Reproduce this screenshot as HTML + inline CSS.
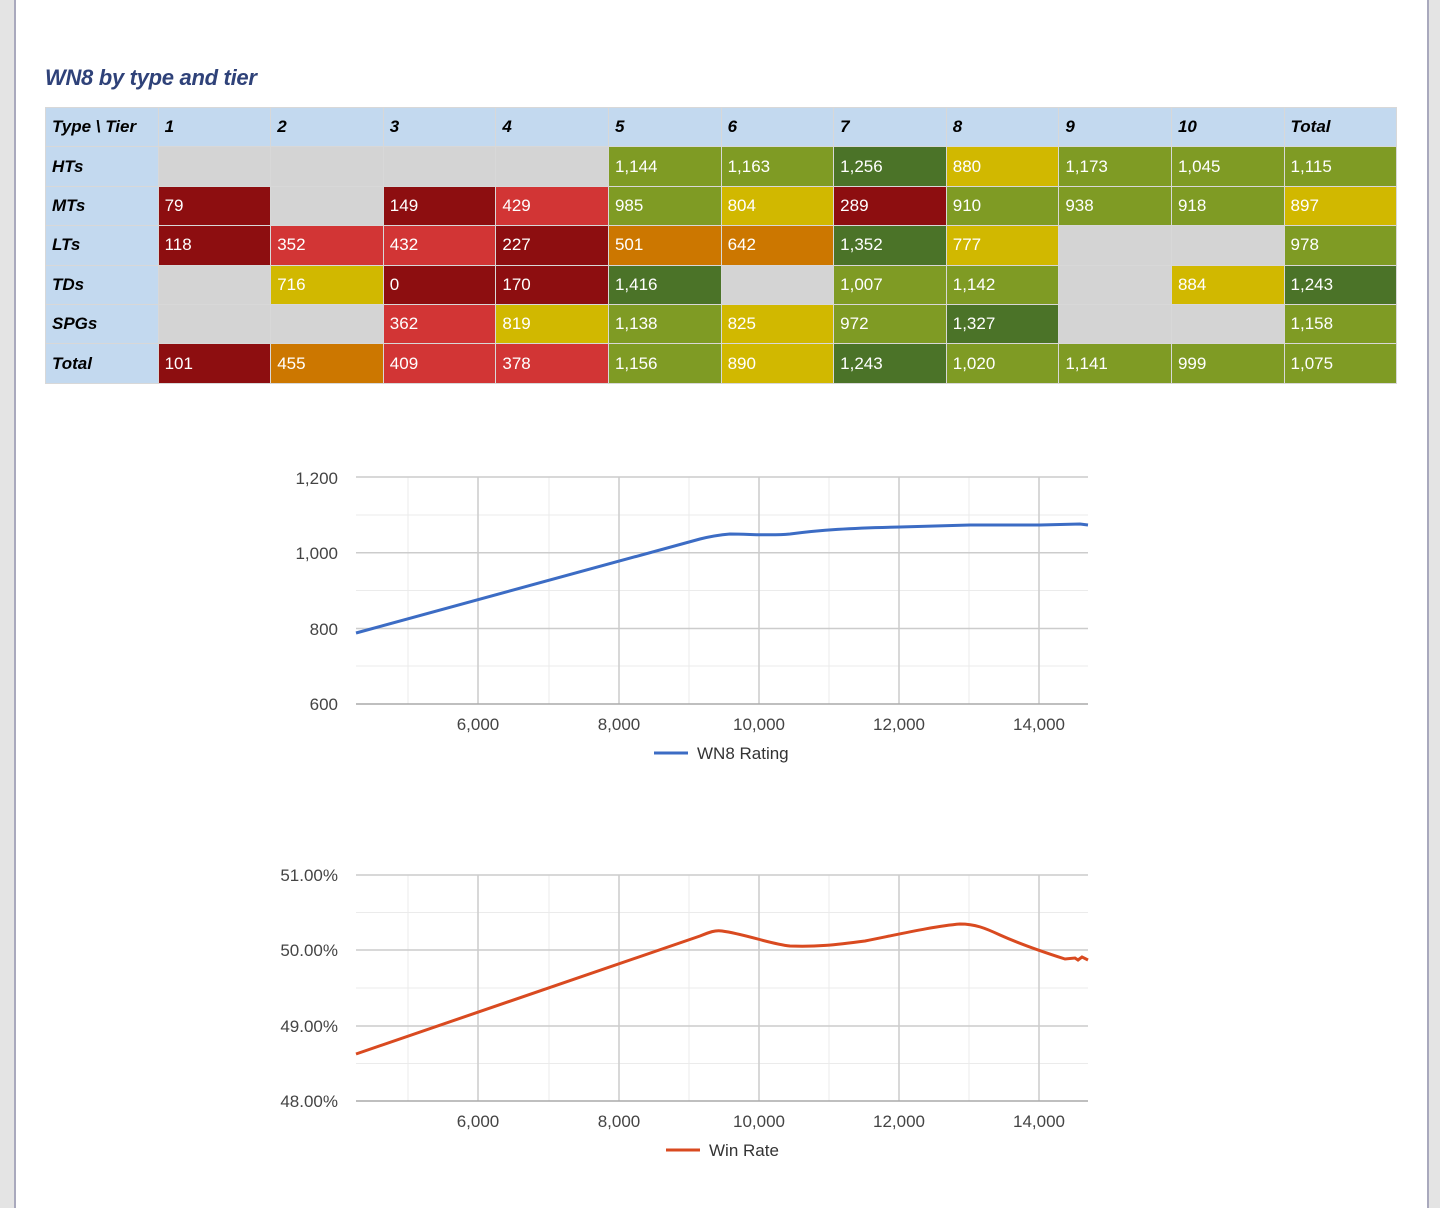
<!DOCTYPE html>
<html><head><style>
body{margin:0;width:1440px;height:1199px;background:#e4e4e4;font-family:"Liberation Sans",Arial,sans-serif;position:relative;overflow:hidden}
.page{position:absolute;left:14px;top:-2px;width:1411px;height:1210px;background:#fff;border-left:2px solid #a9a9bd;border-right:2px solid #a9a9bd}
h1{position:absolute;left:45px;top:65px;margin:0;font-size:22px;letter-spacing:-0.3px;font-style:italic;font-weight:bold;color:#2f4279}
table{position:absolute;left:45px;top:107px;border-collapse:collapse;table-layout:fixed}
td{width:112.6px;height:39.4px;padding:0 0 0 6px;box-sizing:border-box;border:1px solid #d8d8d8;font-size:17px;color:#fff;vertical-align:middle}
td.h{background:#c3d9ef;color:#000;font-weight:bold;font-style:italic}
.g{background:#d4d4d4}.dr{background:#8d0e10}.r{background:#d23535}.o{background:#cc7700}.y{background:#d1b800}.lg{background:#7f9b24}.dg{background:#4b7328}
svg{position:absolute;left:0;top:0}
</style></head><body>
<div class="page"></div>
<h1>WN8 by type and tier</h1>
<table>
<tr><td class="h">Type \ Tier</td><td class="h">1</td><td class="h">2</td><td class="h">3</td><td class="h">4</td><td class="h">5</td><td class="h">6</td><td class="h">7</td><td class="h">8</td><td class="h">9</td><td class="h">10</td><td class="h">Total</td></tr>
<tr><td class="h">HTs</td><td class="g"></td><td class="g"></td><td class="g"></td><td class="g"></td><td class="lg">1,144</td><td class="lg">1,163</td><td class="dg">1,256</td><td class="y">880</td><td class="lg">1,173</td><td class="lg">1,045</td><td class="lg">1,115</td></tr>
<tr><td class="h">MTs</td><td class="dr">79</td><td class="g"></td><td class="dr">149</td><td class="r">429</td><td class="lg">985</td><td class="y">804</td><td class="dr">289</td><td class="lg">910</td><td class="lg">938</td><td class="lg">918</td><td class="y">897</td></tr>
<tr><td class="h">LTs</td><td class="dr">118</td><td class="r">352</td><td class="r">432</td><td class="dr">227</td><td class="o">501</td><td class="o">642</td><td class="dg">1,352</td><td class="y">777</td><td class="g"></td><td class="g"></td><td class="lg">978</td></tr>
<tr><td class="h">TDs</td><td class="g"></td><td class="y">716</td><td class="dr">0</td><td class="dr">170</td><td class="dg">1,416</td><td class="g"></td><td class="lg">1,007</td><td class="lg">1,142</td><td class="g"></td><td class="y">884</td><td class="dg">1,243</td></tr>
<tr><td class="h">SPGs</td><td class="g"></td><td class="g"></td><td class="r">362</td><td class="y">819</td><td class="lg">1,138</td><td class="y">825</td><td class="lg">972</td><td class="dg">1,327</td><td class="g"></td><td class="g"></td><td class="lg">1,158</td></tr>
<tr><td class="h">Total</td><td class="dr">101</td><td class="o">455</td><td class="r">409</td><td class="r">378</td><td class="lg">1,156</td><td class="y">890</td><td class="dg">1,243</td><td class="lg">1,020</td><td class="lg">1,141</td><td class="lg">999</td><td class="lg">1,075</td></tr>
</table>
<svg width="1440" height="1199" font-family="Liberation Sans, Arial, sans-serif" font-size="17" fill="#444">
<g stroke="#ebebeb" stroke-width="1">
<line x1="356" x2="1088" y1="515" y2="515"/><line x1="356" x2="1088" y1="590.5" y2="590.5"/><line x1="356" x2="1088" y1="666" y2="666"/>
<line x1="408" x2="408" y1="477" y2="704"/><line x1="549" x2="549" y1="477" y2="704"/><line x1="689" x2="689" y1="477" y2="704"/><line x1="829" x2="829" y1="477" y2="704"/><line x1="969" x2="969" y1="477" y2="704"/>
<line x1="356" x2="1088" y1="912.5" y2="912.5"/><line x1="356" x2="1088" y1="988" y2="988"/><line x1="356" x2="1088" y1="1063.5" y2="1063.5"/>
<line x1="408" x2="408" y1="875" y2="1101"/><line x1="549" x2="549" y1="875" y2="1101"/><line x1="689" x2="689" y1="875" y2="1101"/><line x1="829" x2="829" y1="875" y2="1101"/><line x1="969" x2="969" y1="875" y2="1101"/>
</g>
<g stroke="#cccccc" stroke-width="1.5">
<line x1="356" x2="1088" y1="477" y2="477"/><line x1="356" x2="1088" y1="552.7" y2="552.7"/><line x1="356" x2="1088" y1="628.5" y2="628.5"/>
<line x1="478" x2="478" y1="477" y2="704"/><line x1="619" x2="619" y1="477" y2="704"/><line x1="759" x2="759" y1="477" y2="704"/><line x1="899" x2="899" y1="477" y2="704"/><line x1="1039" x2="1039" y1="477" y2="704"/>
<line x1="356" x2="1088" y1="875" y2="875"/><line x1="356" x2="1088" y1="950" y2="950"/><line x1="356" x2="1088" y1="1026" y2="1026"/>
<line x1="478" x2="478" y1="875" y2="1101"/><line x1="619" x2="619" y1="875" y2="1101"/><line x1="759" x2="759" y1="875" y2="1101"/><line x1="899" x2="899" y1="875" y2="1101"/><line x1="1039" x2="1039" y1="875" y2="1101"/>
</g>
<g stroke="#aaa" stroke-width="1.5"><line x1="356" x2="1088" y1="704" y2="704"/><line x1="356" x2="1088" y1="1101" y2="1101"/></g>
<g text-anchor="end"><text x="338" y="484">1,200</text><text x="338" y="559">1,000</text><text x="338" y="635">800</text><text x="338" y="710">600</text>
<text x="338" y="881">51.00%</text><text x="338" y="956">50.00%</text><text x="338" y="1032">49.00%</text><text x="338" y="1107">48.00%</text></g>
<g text-anchor="middle"><text x="478" y="730">6,000</text><text x="619" y="730">8,000</text><text x="759" y="730">10,000</text><text x="899" y="730">12,000</text><text x="1039" y="730">14,000</text>
<text x="478" y="1127">6,000</text><text x="619" y="1127">8,000</text><text x="759" y="1127">10,000</text><text x="899" y="1127">12,000</text><text x="1039" y="1127">14,000</text></g>
<path d="M356,633 L700,539 C712,536 718,535 730,534 C750,534 770,536 790,534 C820,530 850,528 900,527 L970,525 L1040,525 L1080,524 L1088,525" fill="none" stroke="#3c6cc4" stroke-width="3"/>
<path d="M356,1054 L700,936 C710,932 715,930 722,931 C745,934 770,944 790,946 C815,947 835,945 865,941 C900,934 935,926 960,924 C975,924 985,928 1000,935 C1020,944 1040,951 1065,959 L1075,958 L1078,960 L1082,957 L1088,960" fill="none" stroke="#d94a20" stroke-width="3"/>
<line x1="654" x2="688" y1="753" y2="753" stroke="#3c6cc4" stroke-width="3"/><text x="697" y="759" fill="#333">WN8 Rating</text>
<line x1="666" x2="700" y1="1150" y2="1150" stroke="#d94a20" stroke-width="3"/><text x="709" y="1156" fill="#333">Win Rate</text>
</svg>
</body></html>
